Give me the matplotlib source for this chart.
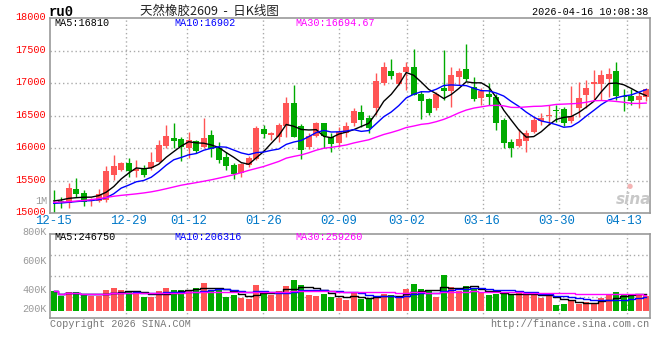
import numpy as np
import pandas as pd
import matplotlib
matplotlib.use("Agg")
import matplotlib.pyplot as plt
import matplotlib.transforms as mtransforms

# Daily K-line data, 12-15 .. 04-16 (80 trading days)
opens = [15210, 15185, 15154, 15374, 15308, 15190, 15190, 15205, 15590, 15667,
         15769, 15656, 15692, 15692, 15795, 16036, 16164, 16138, 16000, 16113,
         16026, 16205, 16010, 15872, 15744, 15615, 15744, 15831, 16297, 16205,
         16180, 16344, 16703, 16344, 16026, 16190, 16385, 16180, 16077, 16231,
         16395, 16564, 16472, 16615, 17010, 17195, 16990, 17180, 17256, 16836,
         16759, 16626, 16923, 16887, 17103, 17215, 16949, 16779, 16836, 16795,
         16436, 16092, 16036, 16118, 16256, 16426, 16497, 16590, 16605, 16421,
         16626, 16821, 16995, 16995, 17067, 17190, 16805, 16805, 16744, 16795]
highs = [15360, 15255, 15460, 15538, 15359, 15230, 15369, 15728, 15897, 15795,
         15846, 15820, 15743, 15949, 16128, 16359, 16395, 16179, 16256, 16128,
         16470, 16282, 16103, 15949, 15769, 15769, 15882, 16344, 16359, 16256,
         16385, 16795, 16974, 16374, 16231, 16410, 16395, 16230, 16323, 16410,
         16615, 16667, 16513, 17154, 17323, 17374, 17180, 17323, 17528, 16887,
         16774, 16872, 17513, 17256, 17241, 17605, 17092, 16933, 17010, 16836,
         16462, 16138, 16292, 16282, 16487, 16538, 16667, 16667, 16631, 16959,
         17026, 17051, 17205, 17205, 17231, 17323, 16908, 16908, 16872, 16923]
lows = [15010, 15077, 15077, 15246, 15118, 15118, 15179, 15179, 15513, 15656,
        15564, 15564, 15554, 15667, 15795, 16000, 16000, 15810, 15846, 15923,
        16000, 15872, 15769, 15667, 15523, 15564, 15718, 15820, 16154, 16128,
        16103, 16180, 16180, 15831, 15985, 16180, 16000, 15949, 16026, 16180,
        16344, 16333, 16231, 16513, 16974, 17062, 16974, 16897, 16821, 16451,
        16508, 16590, 16744, 16641, 16974, 17041, 16728, 16672, 16667, 16282,
        16000, 15872, 16015, 15949, 16231, 16359, 16359, 16410, 16344, 16395,
        16487, 16615, 16744, 16744, 16795, 16744, 16580, 16667, 16615, 16728]
closes = [15200, 15175, 15385, 15297, 15179, 15205, 15292, 15651, 15728, 15769,
          15656, 15682, 15590, 15795, 16051, 16190, 16118, 16015, 16128, 15964,
          16164, 15985, 15820, 15733, 15605, 15754, 15856, 16318, 16220, 16230,
          16359, 16703, 16180, 15974, 16190, 16385, 16190, 16067, 16256, 16344,
          16574, 16436, 16308, 17036, 17256, 17113, 17164, 17256, 16821, 16733,
          16549, 16836, 16887, 17128, 17190, 17067, 16759, 16887, 16795, 16395,
          16087, 16000, 16144, 16231, 16436, 16462, 16513, 16569, 16395, 16503,
          16769, 16923, 17015, 17128, 17144, 16805, 16790, 16733, 16810, 16908]
volumes = [295000, 219000, 280000, 280000, 240000, 230000, 230000, 321000, 352000, 321000,
           291000, 249000, 203000, 203000, 306000, 352000, 321000, 321000, 321000, 352000,
           428000, 321000, 321000, 214000, 245000, 199000, 184000, 398000, 291000, 245000,
           306000, 383000, 474000, 398000, 245000, 230000, 260000, 210000, 194000, 168000,
           271000, 184000, 184000, 230000, 256000, 245000, 203000, 337000, 413000, 337000,
           295000, 214000, 551000, 367000, 295000, 383000, 332000, 280000, 245000, 260000,
           260000, 245000, 306000, 245000, 245000, 199000, 230000, 92000, 107000, 168000,
           107000, 138000, 107000, 194000, 245000, 291000, 260000, 234000, 234000, 230000]

# moving-average values at the left edge (window reaches before 12-15)
ma5_head = [15190, 15205, 15230, 15240]
ma10_head = [15154, 15159, 15169, 15180, 15190, 15195, 15210, 15240, 15300]
ma30_head = [15169, 15174, 15179, 15188, 15198, 15210, 15225, 15243, 15262, 15276,
             15287, 15299, 15313, 15330, 15352, 15378, 15405, 15432, 15452, 15472,
             15493, 15515, 15540, 15566, 15593, 15625, 15660, 15690, 15720]

tick_labels = ["12-15", "12-29", "01-12", "01-26", "02-09", "03-02", "03-16", "03-30", "04-13"]
tick_index = [0, 10, 18, 28, 38, 47, 57, 67, 76]
price_ticks = [15000, 15500, 16000, 16500, 17000, 17500, 18000]
vol_labels = ["1M", "800K", "600K", "400K", "200K"]

title = "天然橡胶2609  -  日K线图"
symbol = "ru0"
stamp = "2026-04-16 10:08:38"
price_ma_text = ["MA5:16810", "MA10:16902", "MA30:16694.67"]
vol_ma_text = ["MA5:246750", "MA10:206316", "MA30:259260"]

RED = "#ff5555"
GREEN = "#00aa00"
MA_COLORS = ["black", "#0000ff", "#ff00ff"]
GRID = dict(color="#aaaaaa", lw=1, linestyle=(0, (1, 2)), zorder=1)
MONO = "Liberation Mono"

W, H = 660, 360
def fx(px):
    return px / W
def fy(py):
    return 1 - py / H

n = len(closes)
x = np.arange(n)
o = np.array(opens, float)
c = np.array(closes, float)
hi = np.array(highs, float)
lo = np.array(lows, float)
vol = np.array(volumes, float)
colors = np.where(c >= o, RED, GREEN)

cs = pd.Series(c)
ma5 = cs.rolling(5).mean().to_numpy()
ma10 = cs.rolling(10).mean().to_numpy()
ma30 = cs.rolling(30).mean().to_numpy()
ma5[:4] = ma5_head
ma10[:9] = ma10_head
ma30[:29] = ma30_head

vs = pd.Series(vol)
vma = [vs.rolling(w, min_periods=1).mean().to_numpy() for w in (5, 10, 30)]

fig = plt.figure(figsize=(W / 100, H / 100), dpi=100)
fig.patch.set_facecolor("white")

ax = fig.add_axes([fx(50), fy(213.3), 600 / W, (213.3 - 18.2) / H])
axv = fig.add_axes([fx(50), fy(318.3), 600 / W, 84 / H])

# gridline x positions (chart spreads them over n-1 steps)
grid_x = [-0.5 + i * n / (n - 1) for i in tick_index[1:]]

for a in (ax, axv):
    a.set_xlim(-0.5, n - 0.5)
    for s in a.spines.values():
        s.set_color("#999999")
        s.set_linewidth(1.2)
    for gx in grid_x:
        a.axvline(gx, **GRID)

# ---- price panel ----
ax.set_ylim(15000, 18000)
for p in price_ticks[1:-1]:
    ax.axhline(p, **GRID)

ax.vlines(x, lo, hi, colors=colors, lw=1, zorder=2)
body = np.maximum(np.abs(c - o), 10)
ax.bar(x, body, bottom=np.minimum(o, c), width=0.74, color=colors, lw=0, zorder=3)

for line, col in zip((ma5, ma10, ma30), MA_COLORS):
    ax.plot(x, line, color=col, lw=1, zorder=4)

ax.set_yticks(price_ticks)
ax.set_yticklabels([str(p) for p in price_ticks], family=MONO, fontsize=7.3)
ax.tick_params(axis="y", length=0, pad=3, labelcolor="red")
shift = mtransforms.ScaledTranslation(0, 2 / 100, fig.dpi_scale_trans)
for lab in ax.get_yticklabels():
    lab.set_transform(lab.get_transform() + shift)

ax.set_xticks(tick_index)
ax.set_xticklabels(tick_labels, family=MONO, fontsize=8.8)
ax.tick_params(axis="x", length=0, pad=1.5, labelcolor="#0078c8")

# ---- volume panel ----
axv.set_ylim(-116000, 1169000)
y0, y1 = axv.get_ylim()
for f in (0.25, 0.5, 0.75):
    axv.axhline(y0 + f * (y1 - y0), **GRID)
axv.bar(x, vol, width=0.8, color=colors, lw=0, zorder=2)
for line, col in zip(vma, MA_COLORS):
    axv.plot(x, line, color=col, lw=1, drawstyle="steps-mid", zorder=3)
axv.set_xticks([])
axv.set_yticks([])

vol_label_y = [201, 231.5, 260.7, 290, 309.3]
for lab, py in zip(vol_labels, vol_label_y):
    fig.text(fx(47), fy(py), lab, ha="right", va="center", family=MONO,
             fontsize=7.3, color="#999999")

# ---- texts ----
fig.text(fx(49), fy(12), symbol, ha="left", va="center", family=MONO,
         fontsize=10, fontweight="bold", color="black")
fig.text(fx(140), fy(11), title, ha="left", va="center",
         family=["Noto Sans CJK SC", "DejaVu Sans"], fontsize=9, color="#222222")
fig.text(fx(648), fy(12), stamp, ha="right", va="center", family=MONO,
         fontsize=7.3, color="black")

for txt, px, col in zip(price_ma_text, (54, 174, 295), MA_COLORS):
    fig.text(fx(px), fy(23.3), txt, ha="left", va="center", family=MONO,
             fontsize=7.3, color=col)
for txt, px, col in zip(vol_ma_text, (54, 174, 295), MA_COLORS):
    fig.text(fx(px), fy(237.3), txt, ha="left", va="center", family=MONO,
             fontsize=7.3, color=col)

fig.text(fx(50), fy(324), "Copyright 2026 SINA.COM", ha="left", va="center",
         family=MONO, fontsize=7.3, color="#777777")
fig.text(fx(649), fy(324), "http://finance.sina.com.cn", ha="right", va="center",
         family=MONO, fontsize=7.3, color="#777777")

# watermark
fig.text(fx(634), fy(199), "sina", ha="center", va="center", fontsize=11,
         fontstyle="italic", fontweight="bold", color="#c8c8c8")
fig.text(fx(630), fy(186), "●", ha="center", va="center", fontsize=5,
         color="#f4b4b4")

fig.savefig("out.png", dpi=100)
